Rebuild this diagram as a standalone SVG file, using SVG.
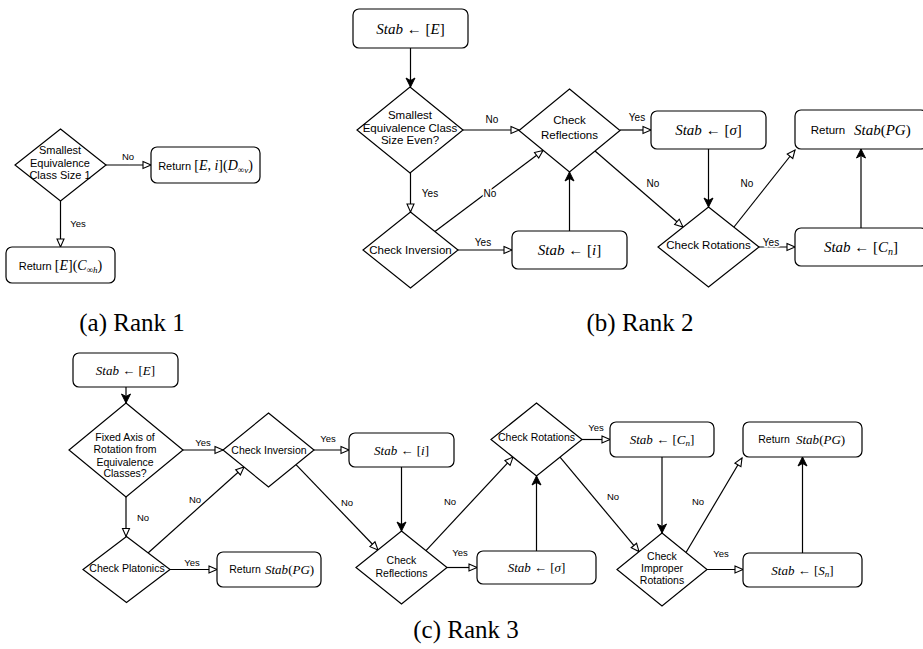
<svg xmlns="http://www.w3.org/2000/svg" width="923" height="649" viewBox="0 0 923 649">
<style>
.n{fill:#fff;stroke:#000;stroke-width:1.2}
.e{fill:none;stroke:#000;stroke-width:1.2}
.o{marker-end:url(#open)}
.f{marker-end:url(#fill)}
.s{font-family:"Liberation Sans",Arial,sans-serif;text-anchor:middle;fill:#000}
.r{font-family:"Liberation Serif","Times New Roman",serif;fill:#000}
.i{font-style:italic}
.l{font-family:"Liberation Sans",Arial,sans-serif;font-size:10px;text-anchor:middle;stroke:#fff;stroke-width:3;paint-order:stroke;fill:#000}
.cap{font-family:"Liberation Serif","Times New Roman",serif;font-size:25px;text-anchor:middle;fill:#000}
</style>
<defs>
<marker id="open" markerUnits="userSpaceOnUse" markerWidth="10" markerHeight="10" refX="8.5" refY="4" orient="auto" overflow="visible">
<path d="M0.5,0.5 L8.5,4 L0.5,7.5 Z" fill="#fff" stroke="#000" stroke-width="1.1"/>
</marker>
<marker id="fill" markerUnits="userSpaceOnUse" markerWidth="10" markerHeight="10" refX="9" refY="4.5" orient="auto" overflow="visible">
<path d="M0,0 L9,4.5 L0,9 L2.5,4.5 Z" fill="#000" stroke="#000" stroke-width="1"/>
</marker>
</defs>

<g id="connectors">
<!-- rank 1 -->
<line class="e o" x1="106" y1="165" x2="151" y2="165"/>
<line class="e o" x1="60.5" y1="201" x2="60.5" y2="247"/>
<!-- rank 2 -->
<line class="e f" x1="410.5" y1="48" x2="410.5" y2="87"/>
<line class="e o" x1="463" y1="130" x2="519" y2="130"/>
<line class="e o" x1="620" y1="130" x2="651" y2="130"/>
<line class="e o" x1="410.5" y1="173" x2="410.5" y2="212"/>
<line class="e o" x1="458" y1="250" x2="512" y2="250"/>
<line class="e f" x1="569.5" y1="231" x2="569.5" y2="172"/>
<line class="e o" x1="435" y1="231.5" x2="543" y2="150.5"/>
<line class="e o" x1="595" y1="151" x2="683" y2="227"/>
<line class="e f" x1="708.5" y1="149" x2="708.5" y2="207"/>
<line class="e o" x1="759" y1="247" x2="795" y2="247"/>
<line class="e f" x1="861" y1="228" x2="861" y2="149"/>
<line class="e o" x1="734" y1="227" x2="795" y2="150"/>
<!-- rank 3 -->
<line class="e f" x1="126" y1="387" x2="126" y2="403"/>
<line class="e o" x1="183" y1="450" x2="223" y2="450"/>
<line class="e o" x1="126" y1="497" x2="126" y2="536.5"/>
<line class="e o" x1="314" y1="450" x2="349" y2="450"/>
<line class="e o" x1="170" y1="569.5" x2="217" y2="569.5"/>
<line class="e o" x1="148" y1="553" x2="244" y2="467"/>
<line class="e o" x1="296" y1="464.6" x2="378" y2="550"/>
<line class="e f" x1="401.5" y1="467" x2="401.5" y2="531"/>
<line class="e o" x1="447" y1="567.5" x2="477" y2="567.5"/>
<line class="e f" x1="536.5" y1="551" x2="536.5" y2="476"/>
<line class="e o" x1="426" y1="550.6" x2="513" y2="457.1"/>
<line class="e o" x1="582" y1="439.5" x2="610" y2="439.5"/>
<line class="e o" x1="560" y1="457.1" x2="639" y2="551.6"/>
<line class="e f" x1="662" y1="457" x2="662" y2="533"/>
<line class="e o" x1="707" y1="569.5" x2="743" y2="569.5"/>
<line class="e f" x1="802.5" y1="553" x2="802.5" y2="457"/>
<line class="e o" x1="686" y1="552.5" x2="742" y2="458"/>
</g>

<g id="labels">
<text class="l" x="128" y="159.5" style="font-size:9.5px">No</text>
<text class="l" x="78" y="226.5" style="font-size:9.5px">Yes</text>
<text class="l" x="492" y="122.5">No</text>
<text class="l" x="637" y="120.5">Yes</text>
<text class="l" x="430" y="196.5">Yes</text>
<text class="l" x="483" y="245.5">Yes</text>
<text class="l" x="490" y="196.5">No</text>
<text class="l" x="653" y="186.5">No</text>
<text class="l" x="771" y="245.5">Yes</text>
<text class="l" x="747" y="186.5">No</text>
<text class="l" x="203" y="445.5" style="font-size:9.5px">Yes</text>
<text class="l" x="143" y="520.5" style="font-size:9.5px">No</text>
<text class="l" x="328" y="441.5" style="font-size:9.5px">Yes</text>
<text class="l" x="192" y="565.5" style="font-size:9.5px">Yes</text>
<text class="l" x="195" y="502.5" style="font-size:9.5px">No</text>
<text class="l" x="347" y="505.5" style="font-size:9.5px">No</text>
<text class="l" x="460" y="555.5" style="font-size:9.5px">Yes</text>
<text class="l" x="450" y="504.5" style="font-size:9.5px">No</text>
<text class="l" x="596" y="430.5" style="font-size:9.5px">Yes</text>
<text class="l" x="613" y="499.5" style="font-size:9.5px">No</text>
<text class="l" x="721" y="556.5" style="font-size:9.5px">Yes</text>
<text class="l" x="698" y="504.5" style="font-size:9.5px">No</text>
</g>

<!-- rank 1 nodes -->
<g id="r1-smallest">
<polygon class="n" points="60.5,129 106,165 60.5,201 15,165"/>
<text class="s" style="font-size:11px" x="60" y="154">Smallest</text>
<text class="s" style="font-size:11px" x="60" y="167">Equivalence</text>
<text class="s" style="font-size:11px" x="60" y="179">Class Size 1</text>
</g>
<g id="r1-return-dinf">
<rect class="n" x="151" y="147" width="109" height="36" rx="6"/>
<text class="s" x="205.5" y="170" style="font-size:11px">Return <tspan class="r" style="font-size:14px">[</tspan><tspan class="r i" style="font-size:14px">E</tspan><tspan class="r" style="font-size:14px">, </tspan><tspan class="r i" style="font-size:14px">i</tspan><tspan class="r" style="font-size:14px">](</tspan><tspan class="r i" style="font-size:14px">D</tspan><tspan class="r" style="font-size:9px" dy="3">∞</tspan><tspan class="r i" style="font-size:9px">v</tspan><tspan class="r" style="font-size:14px" dy="-3">)</tspan></text>
</g>
<g id="r1-return-cinf">
<rect class="n" x="6" y="247" width="109" height="36" rx="6"/>
<text class="s" x="60.5" y="270" style="font-size:11px">Return <tspan class="r" style="font-size:14px">[</tspan><tspan class="r i" style="font-size:14px">E</tspan><tspan class="r" style="font-size:14px">](</tspan><tspan class="r i" style="font-size:14px">C</tspan><tspan class="r" style="font-size:9px" dy="3">∞</tspan><tspan class="r i" style="font-size:9px">h</tspan><tspan class="r" style="font-size:14px" dy="-3">)</tspan></text>
</g>

<!-- rank 2 nodes -->
<g id="r2-stab-e">
<rect class="n" x="353" y="9" width="115" height="39" rx="6"/>
<text class="r" x="410.5" y="33.5" style="font-size:15px;text-anchor:middle"><tspan class="i">Stab</tspan> ← [<tspan class="i">E</tspan>]</text>
</g>
<g id="r2-smallest">
<polygon class="n" points="410,87 463,130 410,173 357,130"/>
<text class="s" style="font-size:11.5px" x="410" y="119">Smallest</text>
<text class="s" style="font-size:11.5px" x="410" y="132">Equivalence Class</text>
<text class="s" style="font-size:11.5px" x="410" y="144">Size Even?</text>
</g>
<g id="r2-reflections">
<polygon class="n" points="569.5,89 620,130.5 569.5,172 519,130.5"/>
<text class="s" style="font-size:11.5px" x="569.5" y="124">Check</text>
<text class="s" style="font-size:11.5px" x="569.5" y="139">Reflections</text>
</g>
<g id="r2-inversion">
<polygon class="n" points="410.5,212 458,250 410.5,288 363,250"/>
<text class="s" style="font-size:11.5px" x="410.5" y="254">Check Inversion</text>
</g>
<g id="r2-stab-i">
<rect class="n" x="512" y="231" width="115" height="38" rx="6"/>
<text class="r" x="569.5" y="255" style="font-size:15px;text-anchor:middle"><tspan class="i">Stab</tspan> ← [<tspan class="i">i</tspan>]</text>
</g>
<g id="r2-stab-sigma">
<rect class="n" x="651" y="111" width="115" height="38" rx="6"/>
<text class="r" x="708.5" y="135" style="font-size:15px;text-anchor:middle"><tspan class="i">Stab</tspan> ← [<tspan class="i">σ</tspan>]</text>
</g>
<g id="r2-rotations">
<polygon class="n" points="708.5,207 759,247 708.5,287 658,247"/>
<text class="s" style="font-size:11.5px" x="708.5" y="249">Check Rotations</text>
</g>
<g id="r2-stab-cn">
<rect class="n" x="795" y="228" width="132" height="38" rx="6"/>
<text class="r" x="861" y="252" style="font-size:15px;text-anchor:middle"><tspan class="i">Stab</tspan> ← [<tspan class="i">C</tspan><tspan class="i" style="font-size:10px" dy="3">n</tspan><tspan dy="-3">]</tspan></text>
</g>
<g id="r2-return">
<rect class="n" x="795" y="110" width="132" height="39" rx="6"/>
<text class="s" x="828" y="134" style="font-size:11.5px">Return</text>
<text class="r" x="854" y="135" style="font-size:15px"><tspan class="i">Stab</tspan>(<tspan class="i">PG</tspan>)</text>
</g>

<!-- rank 3 nodes -->
<g id="r3-stab-e">
<rect class="n" x="73" y="353" width="105" height="34" rx="6"/>
<text class="r" x="125.5" y="374.5" style="font-size:13px;text-anchor:middle"><tspan class="i">Stab</tspan> ← [<tspan class="i">E</tspan>]</text>
</g>
<g id="r3-fixed-axis">
<polygon class="n" points="126,403 183,450 126,497 69,450"/>
<text class="s" style="font-size:10.5px" x="125" y="441">Fixed Axis of</text>
<text class="s" style="font-size:10.5px" x="125" y="453">Rotation from</text>
<text class="s" style="font-size:10.5px" x="125" y="466">Equivalence</text>
<text class="s" style="font-size:10.5px" x="125" y="477">Classes?</text>
</g>
<g id="r3-inversion">
<polygon class="n" points="268.5,413 314,450 268.5,487 223,450"/>
<text class="s" style="font-size:10.5px" x="269" y="453.5">Check Inversion</text>
</g>
<g id="r3-platonics">
<polygon class="n" points="126.5,536.5 170,569.5 126.5,602.5 83,569.5"/>
<text class="s" style="font-size:10.5px" x="127" y="572">Check Platonics</text>
</g>
<g id="r3-return-1">
<rect class="n" x="217" y="552" width="104" height="35" rx="6"/>
<text class="s" x="245" y="573" style="font-size:10.5px">Return</text>
<text class="r" x="265" y="574" style="font-size:13px"><tspan class="i">Stab</tspan>(<tspan class="i">PG</tspan>)</text>
</g>
<g id="r3-stab-i">
<rect class="n" x="349" y="433" width="105" height="34" rx="6"/>
<text class="r" x="401.5" y="454.5" style="font-size:13px;text-anchor:middle"><tspan class="i">Stab</tspan> ← [<tspan class="i">i</tspan>]</text>
</g>
<g id="r3-reflections">
<polygon class="n" points="401.5,531 447,567.5 401.5,604 356,567.5"/>
<text class="s" style="font-size:10.5px" x="401.5" y="564">Check</text>
<text class="s" style="font-size:10.5px" x="401.5" y="577">Reflections</text>
</g>
<g id="r3-stab-sigma">
<rect class="n" x="477" y="551" width="119" height="33" rx="6"/>
<text class="r" x="536.5" y="572" style="font-size:13px;text-anchor:middle"><tspan class="i">Stab</tspan> ← [<tspan class="i">σ</tspan>]</text>
</g>
<g id="r3-rotations">
<polygon class="n" points="536.5,403 582,439.5 536.5,476 491,439.5"/>
<text class="s" style="font-size:10.5px" x="536.5" y="441">Check Rotations</text>
</g>
<g id="r3-stab-cn">
<rect class="n" x="610" y="422" width="104" height="35" rx="6"/>
<text class="r" x="662" y="443.5" style="font-size:13px;text-anchor:middle"><tspan class="i">Stab</tspan> ← [<tspan class="i">C</tspan><tspan class="i" style="font-size:9px" dy="2.5">n</tspan><tspan dy="-2.5">]</tspan></text>
</g>
<g id="r3-improper">
<polygon class="n" points="662,533 707,569.5 662,606 617,569.5"/>
<text class="s" style="font-size:10.5px" x="662" y="560">Check</text>
<text class="s" style="font-size:10.5px" x="662" y="572">Improper</text>
<text class="s" style="font-size:10.5px" x="662" y="584">Rotations</text>
</g>
<g id="r3-return-2">
<rect class="n" x="743" y="422" width="119" height="35" rx="6"/>
<text class="s" x="774" y="443" style="font-size:10.5px">Return</text>
<text class="r" x="796" y="444" style="font-size:13px"><tspan class="i">Stab</tspan>(<tspan class="i">PG</tspan>)</text>
</g>
<g id="r3-stab-sn">
<rect class="n" x="743" y="553" width="119" height="34" rx="6"/>
<text class="r" x="802.5" y="574.5" style="font-size:13px;text-anchor:middle"><tspan class="i">Stab</tspan> ← [<tspan class="i">S</tspan><tspan class="i" style="font-size:9px" dy="2.5">n</tspan><tspan dy="-2.5">]</tspan></text>
</g>

<g id="captions">
<text class="cap" x="132" y="331">(a) Rank 1</text>
<text class="cap" x="640" y="331">(b) Rank 2</text>
<text class="cap" x="466" y="638">(c) Rank 3</text>
</g>
</svg>
